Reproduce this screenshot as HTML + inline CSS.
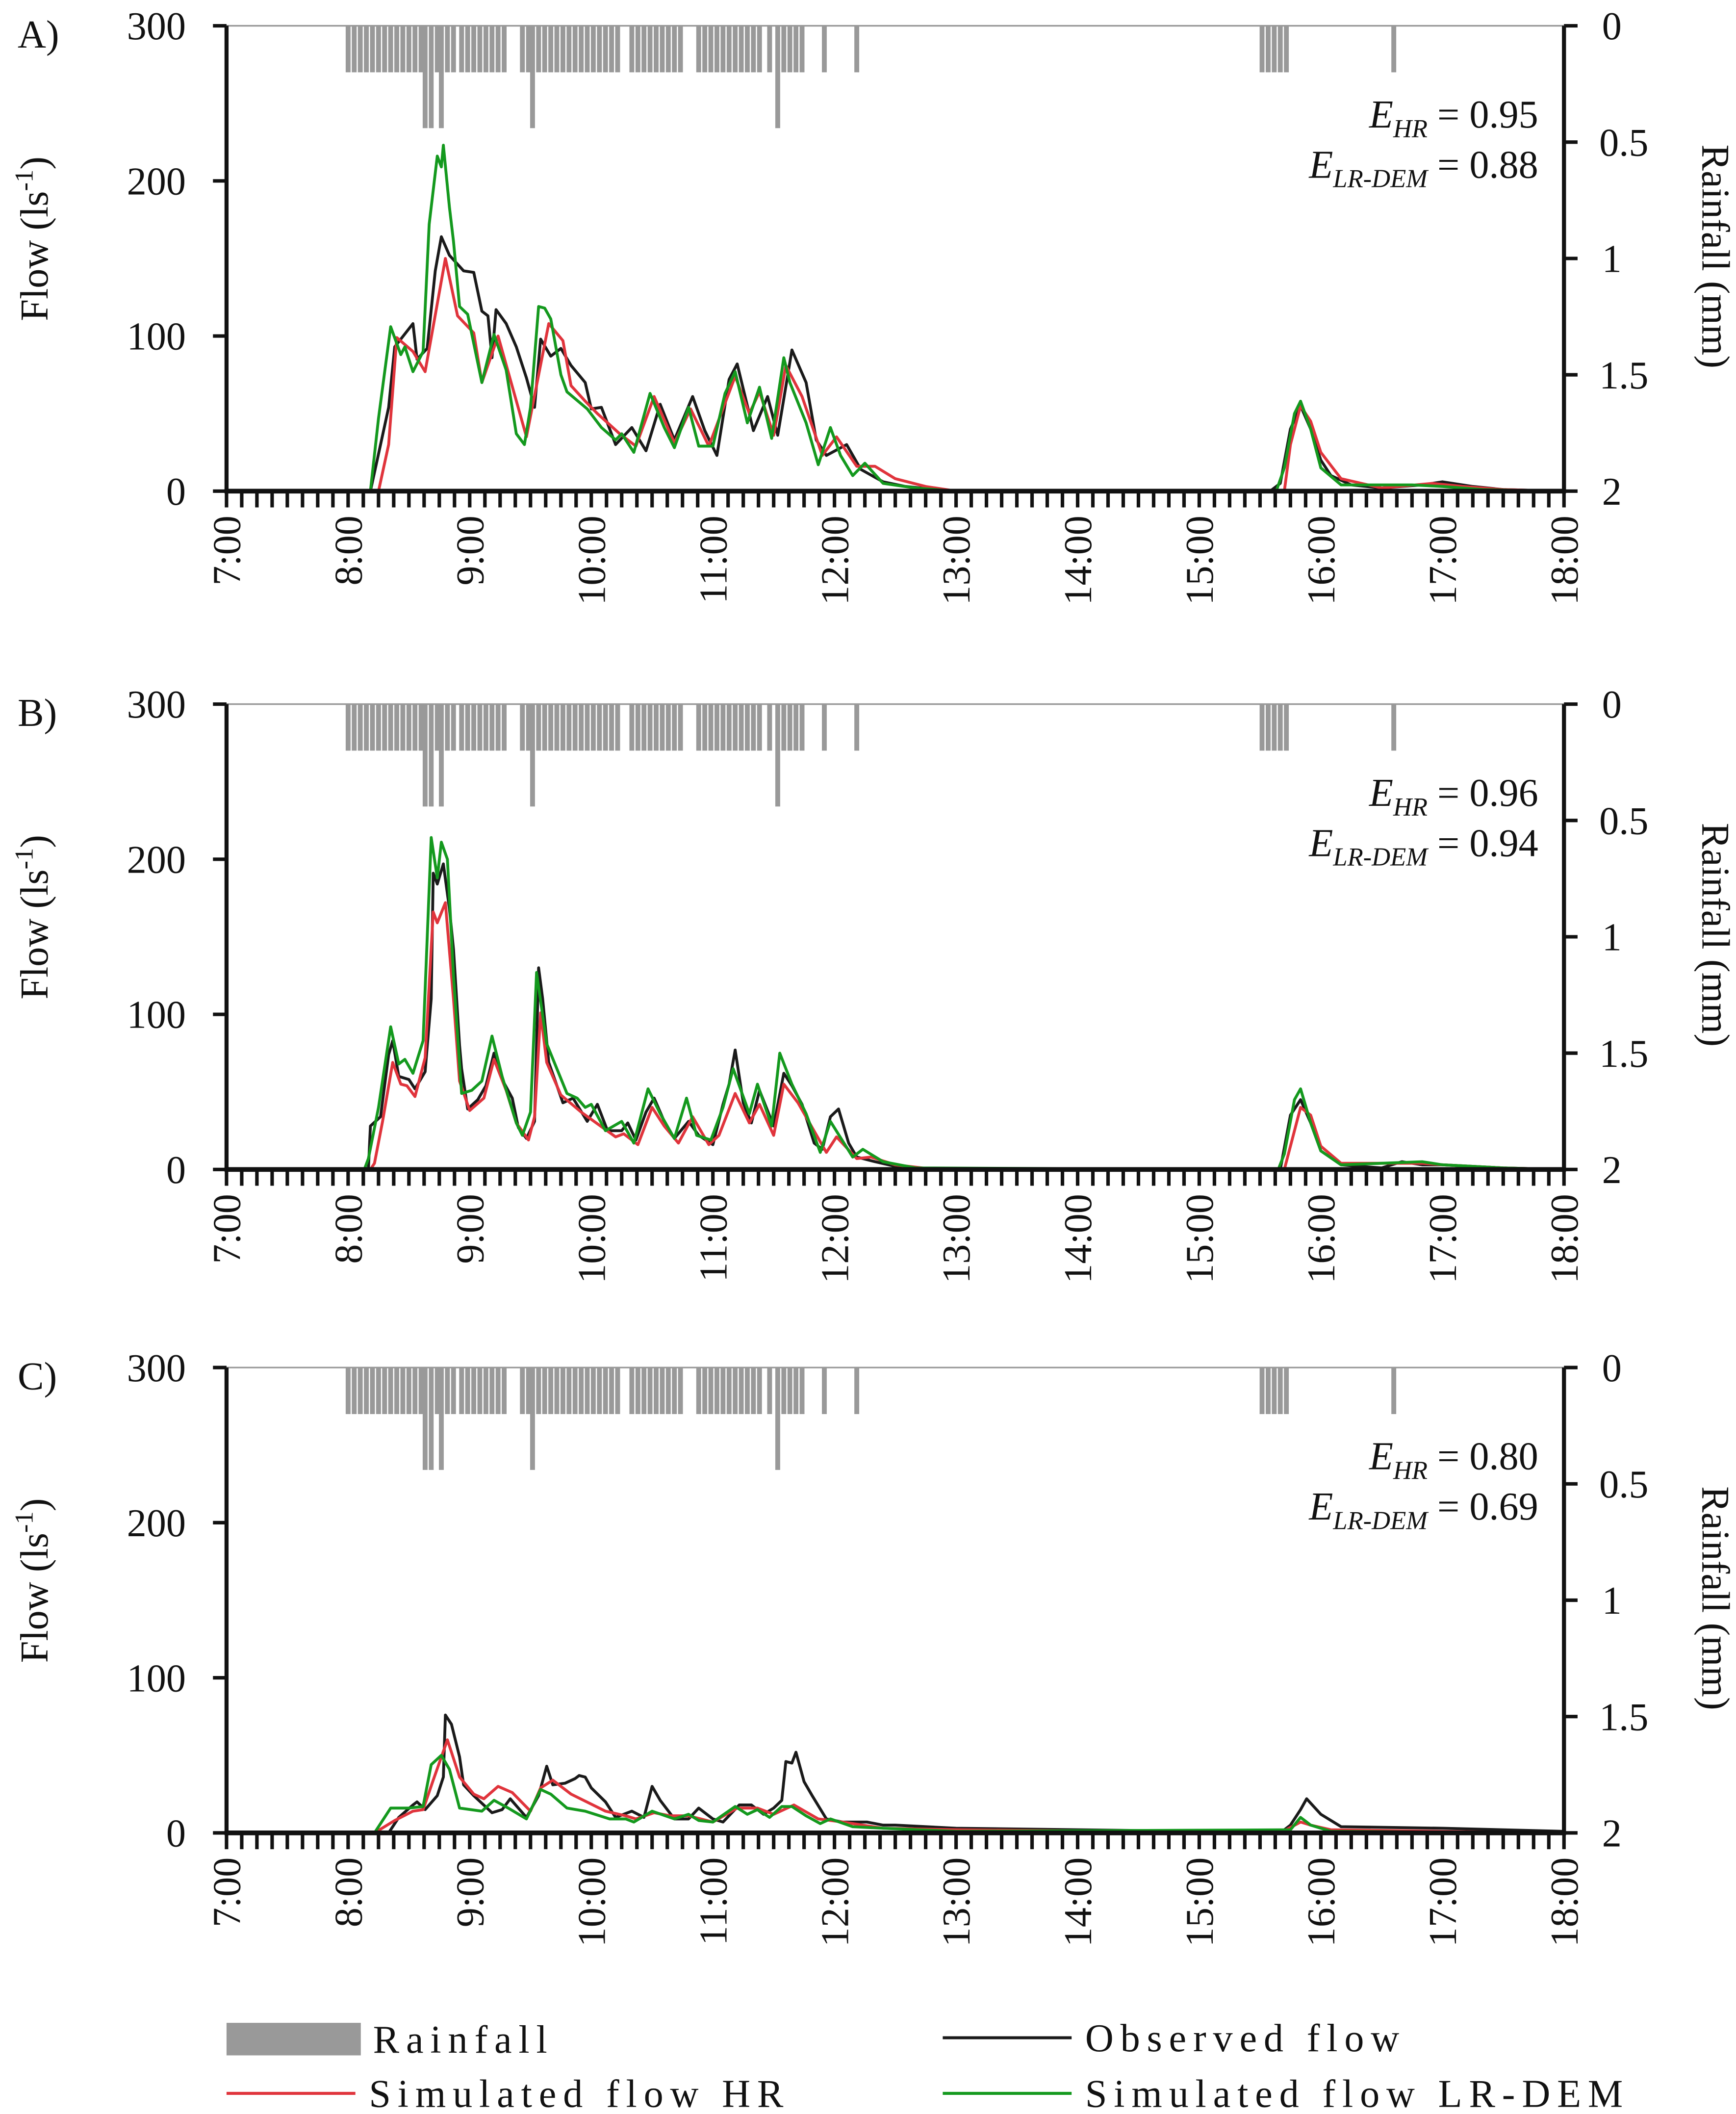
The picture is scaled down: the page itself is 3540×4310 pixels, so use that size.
<!DOCTYPE html>
<html><head><meta charset="utf-8">
<style>
html,body{margin:0;padding:0;background:#fff;}
svg{display:block;}
text{font-family:"Liberation Serif",serif;fill:#111;}
</style></head>
<body>
<svg id="chart" width="3540" height="4310" viewBox="0 0 1279.8 1558.2" preserveAspectRatio="none" xmlns="http://www.w3.org/2000/svg"></svg>
<script>
// ---- Data (times in minutes after 8:00) ----
const hourLabels = ["7:00","8:00","9:00","10:00","11:00","12:00","13:00","14:00","15:00","16:00","17:00","18:00"];
const flowTicks = [0,100,200,300];
const rainTicks = ["0","0.5","1","1.5","2"];
const rainTimes = [0,3,6,9,12,15,18,21,24,27,30,33,36,38,41,44,46,49,52,56,59,62,65,68,71,74,77,86,89,91,94,97,100,103,106,109,112,115,118,121,124,127,130,133,140,143,146,149,152,155,158,161,164,173,176,179,182,185,188,191,194,197,200,203,208,212,215,218,221,224,235,251,451,454,457,460,463,516];
const rainDepth = [0.2,0.2,0.2,0.2,0.2,0.2,0.2,0.2,0.2,0.2,0.2,0.2,0.2,0.44,0.44,0.2,0.44,0.2,0.2,0.2,0.2,0.2,0.2,0.2,0.2,0.2,0.2,0.2,0.2,0.44,0.2,0.2,0.2,0.2,0.2,0.2,0.2,0.2,0.2,0.2,0.2,0.2,0.2,0.2,0.2,0.2,0.2,0.2,0.2,0.2,0.2,0.2,0.2,0.2,0.2,0.2,0.2,0.2,0.2,0.2,0.2,0.2,0.2,0.2,0.2,0.44,0.2,0.2,0.2,0.2,0.2,0.2,0.2,0.2,0.2,0.2,0.2,0.2];

const obsTimesA = [-60,11,20,23,32,34,39,43,46,50,57,62,66,69,71,73,78,83,88,92,95,100,105,110,117,120,125,132,140,147,154,161,170,176,182,188,192,200,207,212,219,226,231,236,246,253,264,275,290,300,455,460,465,470,475,480,485,495,510,530,540,555,570,600];
const obsValsA = [0,0,54,93,108,85,92,142,164,152,142,141,116,113,86,117,108,93,73,54,98,87,92,81,70,53,54,30,41,26,56,33,61,39,23,72,82,39,61,36,91,70,33,23,30,14,6,3,1,0,0,5,40,55,40,20,10,4,2,4,6,3,1,0];
const hrTimesA = [-60,15,20,24,32,38,48,54,62,66,74,88,99,106,110,117,123,134,142,151,161,169,178,191,198,203,210,216,224,234,241,251,260,270,285,300,462,465,470,475,480,490,510,535,550,570,600];
const hrValsA = [0,0,30,99,90,77,150,113,102,70,100,35,108,97,68,58,50,37,29,61,31,53,29,74,50,64,36,81,61,23,35,16,16,8,3,0,0,30,55,45,25,8,2,5,3,1,0];
const lrTimesA = [-60,11,15,21,26,28,32,37,40,44,46,47,50,52,55,59,66,72,78,83,87,90,94,97,100,105,108,118,125,132,135,141,149,156,161,168,173,180,186,191,197,203,209,215,218,226,232,238,243,249,255,264,280,300,458,462,467,470,475,480,490,525,540,560,600];
const lrValsA = [0,0,47,106,88,93,77,90,172,216,209,223,183,161,119,114,70,101,78,37,30,54,119,118,111,75,64,53,41,33,37,25,63,41,28,54,29,29,63,77,44,67,34,86,70,44,17,41,23,10,18,5,2,0,0,15,50,58,40,15,4,4,3,1,0];

const obsTimesB = [-60,10,11,16,20,22,25,30,33,38,41,42,44,47,50,52,55,56,59,64,68,72,76,81,84,88,92,94,96,99,106,111,118,123,128,135,138,142,147,151,156,161,168,173,180,185,188,191,195,199,203,210,215,219,224,230,234,238,242,247,251,260,270,290,460,465,470,475,480,490,510,520,530,540,570,600];
const obsValsB = [0,0,28,34,74,83,60,58,52,63,110,191,184,197,168,142,80,65,39,45,54,75,58,46,27,20,31,130,110,69,43,46,31,42,25,25,30,19,37,46,31,20,31,22,16,42,55,77,43,30,51,28,62,54,42,17,13,34,39,17,8,5,2,0,0,35,45,30,12,3,1,5,3,3,1,0];
const hrTimesB = [-60,11,13,17,22,26,29,33,38,42,44,48,52,55,60,67,72,78,83,89,92,95,98,105,115,132,136,143,150,156,163,170,178,183,191,198,203,210,215,222,236,241,251,258,270,290,462,465,470,475,480,490,530,540,570,600];
const hrValsB = [0,0,4,31,69,55,54,47,72,166,159,172,110,57,38,46,71,51,30,19,34,101,69,48,37,21,23,16,40,28,17,34,16,22,49,30,42,22,55,43,11,21,7,8,3,0,0,15,40,35,15,4,4,3,1,0];
const lrTimesB = [-60,8,10,15,21,25,28,32,37,41,44,46,49,52,56,61,66,71,76,83,86,90,93,98,103,108,113,117,120,127,135,141,148,154,161,167,172,179,185,190,198,202,209,213,219,226,233,238,249,254,264,280,459,462,467,470,475,480,490,530,540,570,600];
const lrValsB = [0,0,7,40,92,68,71,62,83,214,188,211,200,125,49,51,57,86,60,30,22,37,127,81,65,49,46,40,42,25,31,17,52,36,20,46,22,19,40,65,36,55,28,75,55,36,11,31,8,13,5,1,0,10,45,52,30,12,3,5,3,1,0];

const obsTimesC = [-60,20,25,32,34,38,44,47,48,51,55,57,62,71,76,80,88,94,98,101,107,112,114,117,120,127,132,140,146,150,154,161,168,173,180,185,193,199,205,210,214,216,219,221,225,229,236,244,256,264,270,300,360,420,460,465,470,473,480,490,540,600];
const obsValsC = [0,0,10,18,20,15,24,36,76,70,49,31,24,13,15,22,10,24,43,31,32,35,37,36,29,20,10,14,10,30,21,9,9,16,9,7,18,18,12,16,21,46,45,52,33,24,9,7,7,5,5,3,2,1,0,5,15,22,12,4,3,1];
const hrTimesC = [-60,13,23,32,37,42,49,55,62,67,74,81,90,95,101,110,127,137,142,151,159,168,180,192,202,210,220,232,244,264,300,460,470,475,485,540,600];
const hrValsC = [0,0,8,14,15,34,60,36,25,22,30,26,14,29,34,25,14,11,9,13,11,11,7,16,16,12,18,9,7,3,2,0,7,5,2,1,0];
const lrTimesC = [-60,13,21,30,37,41,46,50,55,66,72,79,88,95,100,108,117,129,137,141,150,161,168,173,180,191,197,202,208,214,219,226,233,238,249,264,300,465,470,475,485,600];
const lrValsC = [0,0,16,16,17,44,50,41,16,14,21,16,9,28,25,16,14,9,9,7,14,9,12,8,7,17,12,15,10,17,17,11,6,9,4,3,1,2,10,5,1,0];

const panelLetters = ["A)","B)","C)"];
const effHR = ["0.95","0.96","0.80"];
const effLR = ["0.88","0.94","0.69"];

// ---- Drawing ----
const NS = "http://www.w3.org/2000/svg";
const svg = document.getElementById("chart");
const X0 = 167, X1 = 1153;
const tops = [19, 519, 1008];
const H = 343;
const xs = t => X0 + (t + 60) / 660 * (X1 - X0);
function mk(tag, attrs, parent) {
  const e = document.createElementNS(NS, tag);
  for (const k in attrs) e.setAttribute(k, attrs[k]);
  (parent || svg).appendChild(e);
  return e;
}
const series = [
  [[obsTimesA,obsValsA],[hrTimesA,hrValsA],[lrTimesA,lrValsA]],
  [[obsTimesB,obsValsB],[hrTimesB,hrValsB],[lrTimesB,lrValsB]],
  [[obsTimesC,obsValsC],[hrTimesC,hrValsC],[lrTimesC,lrValsC]]
];
const colors = ["#1a1a1a","#e0343c","#14991e"];
const sNames = ["observed-flow-line","simulated-flow-hr-line","simulated-flow-lr-dem-line"];

tops.forEach((top, p) => {
  const bot = top + H;
  const ys = v => bot - v / 300 * H;
  const yr = d => top + d / 2 * H;
  const g = mk("g", {});
  
  
  const tl = mk("line", {x1:X0, x2:X1, y1:top, y2:top, stroke:"#999", "stroke-width":1.2}, g);
  
  
  const rg = mk("g", {fill:"#999"}, g);
  
  
  rainTimes.forEach((t, i) => {
    const bw = 2.4 / 660 * (X1 - X0);
    const r = mk("rect", {x: xs(t) - bw/2, y: top, width: bw, height: yr(rainDepth[i]) - top}, rg);
    
    
  });
  series[p].forEach((s, k) => {
    const [ts, vs] = s;
    const n = Math.min(ts.length, vs.length);
    let d = "";
    for (let i = 0; i < n; i++) d += (i ? "L" : "M") + xs(ts[i]).toFixed(2) + "," + ys(vs[i]).toFixed(2);
    const pl = mk("path", {d, fill:"none", stroke:colors[k], "stroke-width":2.1, "stroke-linejoin":"round"}, g);
    
    
  });
  const la = mk("line", {x1:X0, x2:X0, y1:top, y2:bot + 1.5, stroke:"#111", "stroke-width":3}, g);
  
  
  const ra = mk("line", {x1:X1, x2:X1, y1:top, y2:bot + 1.5, stroke:"#111", "stroke-width":3}, g);
  
  
  const ba = mk("line", {x1:X0 - 1.5, x2:X1 + 1.5, y1:bot, y2:bot, stroke:"#111", "stroke-width":3.5}, g);
  
  
  for (let i = 0; i <= 88; i++) {
    const x = X0 + i * (X1 - X0) / 88;
    const tk = mk("line", {x1:x, x2:x, y1:bot, y2:bot + 12, stroke:"#111", "stroke-width":2.6}, g);
    
    
  }
  hourLabels.forEach((lab, i) => {
    const x = X0 + i * (X1 - X0) / 11;
    const t = mk("text", {x:0, y:0, "font-size":29, "text-anchor":"end", transform:`translate(${x + 10},${bot + 18}) rotate(-90)`}, g);
    t.textContent = lab;
    
    
  });
  flowTicks.forEach(v => {
    const y = ys(v);
    const tk = mk("line", {x1:X0 - 10, x2:X0, y1:y, y2:y, stroke:"#111", "stroke-width":2.6}, g);
    
    
    const t = mk("text", {x:137, y:y + 10, "font-size":29, "text-anchor":"end"}, g);
    t.textContent = v;
    
    
  });
  rainTicks.forEach(v => {
    const y = yr(parseFloat(v));
    const tk = mk("line", {x1:X1, x2:X1 + 10, y1:y, y2:y, stroke:"#111", "stroke-width":2.6}, g);
    
    
    const t = mk("text", {x: v === "0" || v === "1" || v === "2" ? 1181 : 1179, y:y + 10, "font-size":29}, g);
    t.textContent = v;
    
    
  });
  const ft = mk("text", {x:0, y:0, "font-size":29, "text-anchor":"middle", transform:`translate(35,${top + 157}) rotate(-90)`}, g);
  ft.innerHTML = 'Flow (ls<tspan font-size="19" dy="-11">-1</tspan><tspan dy="11">)</tspan>';
  
  
  const rt = mk("text", {x:0, y:0, "font-size":29, "text-anchor":"middle", transform:`translate(1255,${top + 170}) rotate(90)`}, g);
  rt.textContent = "Rainfall (mm)";
  
  
  const pl = mk("text", {x:13, y:top + 16, "font-size":29}, g);
  pl.textContent = panelLetters[p];
  
  
  const e1 = mk("text", {x:1134, y:top + 75, "font-size":29, "text-anchor":"end"}, g);
  e1.innerHTML = '<tspan font-style="italic">E</tspan><tspan font-style="italic" font-size="19" dy="7">HR</tspan><tspan dy="-7"> = ' + effHR[p] + '</tspan>';
  
  
  const e2 = mk("text", {x:1134, y:top + 112, "font-size":29, "text-anchor":"end"}, g);
  e2.innerHTML = '<tspan font-style="italic">E</tspan><tspan font-style="italic" font-size="19" dy="7">LR-DEM</tspan><tspan dy="-7"> = ' + effLR[p] + '</tspan>';
  
  
});

const lg = mk("g", {});


const legendItems = [
  {kind:"rect", x:167, y:1503, color:"#999", label:"Rainfall", name:"legend-rainfall"},
  {kind:"line", x:695, y:1502, color:"#1a1a1a", label:"Observed flow", name:"legend-observed-flow"},
  {kind:"line", x:167, y:1543, color:"#e0343c", label:"Simulated flow HR", name:"legend-simulated-hr"},
  {kind:"line", x:695, y:1543, color:"#14991e", label:"Simulated flow LR-DEM", name:"legend-simulated-lr-dem"}
];
legendItems.forEach(it => {
  const eg = mk("g", {}, lg);
  
  
  if (it.kind === "rect") mk("rect", {x:it.x, y:it.y - 12, width:99, height:24, fill:it.color}, eg);
  else mk("line", {x1:it.x, x2:it.x + 95, y1:it.y, y2:it.y, stroke:it.color, "stroke-width":2.2}, eg);
  const t = mk("text", {x:it.x + (it.kind === "rect" ? 108 : 105), y:it.y + 10, "font-size":29, "letter-spacing":"5"}, eg);
  t.textContent = it.label;
});
</script>
</body></html>
